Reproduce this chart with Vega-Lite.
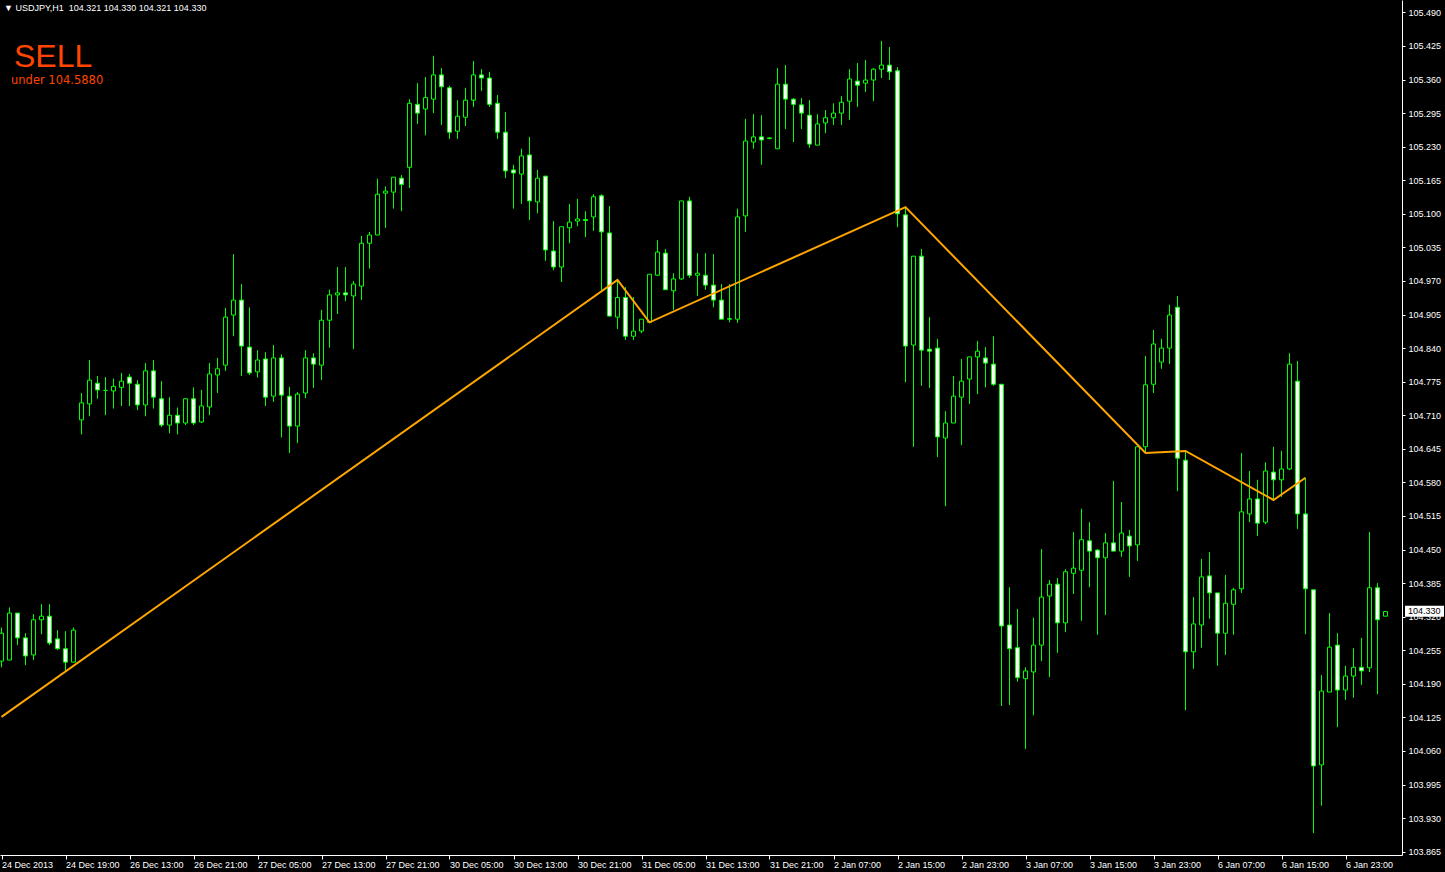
{
 "$schema": "https://vega.github.io/schema/vega-lite/v6.json",
 "width": 1402,
 "height": 855,
 "autosize": {"type": "none"},
 "padding": {"left": 0, "top": 0, "right": 43, "bottom": 17},
 "background": "#000000",
 "config": {
  "view": {"stroke": null},
  "scale": {"continuousPadding": 0},
  "axis": {"domainColor": "#FFFFFF", "tickColor": "#FFFFFF", "labelColor": "#FFFFFF", "labelFont": "Liberation Sans", "labelFontSize": 9, "grid": false, "title": null, "domainWidth": 1, "tickWidth": 1, "labelOverlap": false, "labelFlush": false, "labelBound": false}
 },
 "datasets": {
  "bars": [
{"i":0,"o":104.234,"h":104.299,"l":104.222,"c":104.288},
{"i":1,"o":104.236,"h":104.338,"l":104.236,"c":104.327},
{"i":2,"o":104.327,"h":104.327,"l":104.265,"c":104.279},
{"i":3,"o":104.279,"h":104.288,"l":104.226,"c":104.244},
{"i":4,"o":104.246,"h":104.325,"l":104.236,"c":104.314},
{"i":5,"o":104.314,"h":104.344,"l":104.286,"c":104.321},
{"i":6,"o":104.321,"h":104.344,"l":104.265,"c":104.269},
{"i":7,"o":104.277,"h":104.294,"l":104.256,"c":104.258},
{"i":8,"o":104.258,"h":104.292,"l":104.213,"c":104.232},
{"i":9,"o":104.232,"h":104.299,"l":104.232,"c":104.294},
{"i":10,"o":104.701,"h":104.753,"l":104.673,"c":104.734},
{"i":11,"o":104.732,"h":104.817,"l":104.708,"c":104.778},
{"i":12,"o":104.772,"h":104.786,"l":104.742,"c":104.759},
{"i":13,"o":104.758,"h":104.784,"l":104.710,"c":104.758},
{"i":14,"o":104.757,"h":104.781,"l":104.723,"c":104.766},
{"i":15,"o":104.764,"h":104.792,"l":104.728,"c":104.776},
{"i":16,"o":104.784,"h":104.790,"l":104.728,"c":104.772},
{"i":17,"o":104.770,"h":104.778,"l":104.720,"c":104.730},
{"i":18,"o":104.730,"h":104.811,"l":104.708,"c":104.796},
{"i":19,"o":104.796,"h":104.817,"l":104.723,"c":104.745},
{"i":20,"o":104.742,"h":104.776,"l":104.687,"c":104.691},
{"i":21,"o":104.691,"h":104.745,"l":104.675,"c":104.710},
{"i":22,"o":104.710,"h":104.725,"l":104.673,"c":104.695},
{"i":23,"o":104.695,"h":104.742,"l":104.691,"c":104.742},
{"i":24,"o":104.742,"h":104.764,"l":104.691,"c":104.695},
{"i":25,"o":104.697,"h":104.759,"l":104.695,"c":104.728},
{"i":26,"o":104.726,"h":104.811,"l":104.710,"c":104.790},
{"i":27,"o":104.788,"h":104.821,"l":104.753,"c":104.800},
{"i":28,"o":104.807,"h":104.918,"l":104.796,"c":104.900},
{"i":29,"o":104.904,"h":105.022,"l":104.863,"c":104.933},
{"i":30,"o":104.933,"h":104.964,"l":104.786,"c":104.844},
{"i":31,"o":104.842,"h":104.919,"l":104.788,"c":104.792},
{"i":32,"o":104.794,"h":104.836,"l":104.783,"c":104.817},
{"i":33,"o":104.819,"h":104.832,"l":104.728,"c":104.745},
{"i":34,"o":104.747,"h":104.846,"l":104.736,"c":104.821},
{"i":35,"o":104.821,"h":104.828,"l":104.667,"c":104.749},
{"i":36,"o":104.747,"h":104.765,"l":104.637,"c":104.689},
{"i":37,"o":104.689,"h":104.755,"l":104.656,"c":104.751},
{"i":38,"o":104.753,"h":104.836,"l":104.743,"c":104.821},
{"i":39,"o":104.821,"h":104.830,"l":104.763,"c":104.809},
{"i":40,"o":104.807,"h":104.914,"l":104.778,"c":104.894},
{"i":41,"o":104.894,"h":104.953,"l":104.841,"c":104.943},
{"i":42,"o":104.943,"h":104.997,"l":104.906,"c":104.947},
{"i":43,"o":104.947,"h":104.997,"l":104.931,"c":104.943},
{"i":44,"o":104.941,"h":104.970,"l":104.838,"c":104.964},
{"i":45,"o":104.960,"h":105.057,"l":104.933,"c":105.043},
{"i":46,"o":105.043,"h":105.065,"l":104.994,"c":105.059},
{"i":47,"o":105.059,"h":105.168,"l":105.059,"c":105.138},
{"i":48,"o":105.140,"h":105.153,"l":105.073,"c":105.144},
{"i":49,"o":105.142,"h":105.171,"l":105.110,"c":105.171},
{"i":50,"o":105.169,"h":105.175,"l":105.105,"c":105.157},
{"i":51,"o":105.190,"h":105.322,"l":105.150,"c":105.314},
{"i":52,"o":105.312,"h":105.353,"l":105.274,"c":105.295},
{"i":53,"o":105.303,"h":105.365,"l":105.252,"c":105.325},
{"i":54,"o":105.322,"h":105.406,"l":105.295,"c":105.369},
{"i":55,"o":105.369,"h":105.382,"l":105.272,"c":105.346},
{"i":56,"o":105.344,"h":105.348,"l":105.245,"c":105.258},
{"i":57,"o":105.260,"h":105.320,"l":105.245,"c":105.289},
{"i":58,"o":105.287,"h":105.344,"l":105.270,"c":105.320},
{"i":59,"o":105.320,"h":105.396,"l":105.307,"c":105.369},
{"i":60,"o":105.369,"h":105.380,"l":105.338,"c":105.363},
{"i":61,"o":105.363,"h":105.375,"l":105.307,"c":105.312},
{"i":62,"o":105.314,"h":105.330,"l":105.245,"c":105.258},
{"i":63,"o":105.258,"h":105.297,"l":105.169,"c":105.183},
{"i":64,"o":105.185,"h":105.195,"l":105.110,"c":105.179},
{"i":65,"o":105.177,"h":105.226,"l":105.119,"c":105.212},
{"i":66,"o":105.214,"h":105.249,"l":105.088,"c":105.125},
{"i":67,"o":105.123,"h":105.185,"l":105.101,"c":105.169},
{"i":68,"o":105.173,"h":105.173,"l":105.009,"c":105.030},
{"i":69,"o":105.028,"h":105.086,"l":104.991,"c":104.997},
{"i":70,"o":104.997,"h":105.075,"l":104.968,"c":105.075},
{"i":71,"o":105.073,"h":105.119,"l":105.043,"c":105.084},
{"i":72,"o":105.086,"h":105.129,"l":105.076,"c":105.090},
{"i":73,"o":105.089,"h":105.105,"l":105.055,"c":105.087},
{"i":74,"o":105.094,"h":105.138,"l":105.067,"c":105.133},
{"i":75,"o":105.135,"h":105.138,"l":104.951,"c":105.065},
{"i":76,"o":105.063,"h":105.115,"l":104.902,"c":104.902},
{"i":77,"o":104.900,"h":104.972,"l":104.877,"c":104.938},
{"i":78,"o":104.938,"h":104.958,"l":104.856,"c":104.863},
{"i":79,"o":104.863,"h":104.939,"l":104.856,"c":104.873},
{"i":80,"o":104.873,"h":104.896,"l":104.869,"c":104.896},
{"i":81,"o":104.890,"h":104.983,"l":104.890,"c":104.983},
{"i":82,"o":104.981,"h":105.049,"l":104.980,"c":105.026},
{"i":83,"o":105.024,"h":105.032,"l":104.953,"c":104.953},
{"i":84,"o":104.951,"h":104.985,"l":104.914,"c":104.974},
{"i":85,"o":104.974,"h":105.125,"l":104.972,"c":105.125},
{"i":86,"o":105.125,"h":105.133,"l":104.976,"c":104.981},
{"i":87,"o":104.981,"h":105.024,"l":104.941,"c":104.985},
{"i":88,"o":104.981,"h":105.024,"l":104.953,"c":104.962},
{"i":89,"o":104.962,"h":105.022,"l":104.919,"c":104.933},
{"i":90,"o":104.933,"h":104.964,"l":104.896,"c":104.896},
{"i":91,"o":104.897,"h":104.964,"l":104.890,"c":104.896},
{"i":92,"o":104.896,"h":105.110,"l":104.889,"c":105.094},
{"i":93,"o":105.096,"h":105.284,"l":105.065,"c":105.241},
{"i":94,"o":105.239,"h":105.293,"l":105.226,"c":105.249},
{"i":95,"o":105.249,"h":105.291,"l":105.195,"c":105.243},
{"i":96,"o":105.247,"h":105.248,"l":105.244,"c":105.246},
{"i":97,"o":105.226,"h":105.382,"l":105.226,"c":105.351},
{"i":98,"o":105.351,"h":105.388,"l":105.264,"c":105.322},
{"i":99,"o":105.322,"h":105.324,"l":105.239,"c":105.312},
{"i":100,"o":105.311,"h":105.324,"l":105.264,"c":105.295},
{"i":101,"o":105.291,"h":105.320,"l":105.228,"c":105.235},
{"i":102,"o":105.233,"h":105.293,"l":105.233,"c":105.274},
{"i":103,"o":105.276,"h":105.301,"l":105.256,"c":105.286},
{"i":104,"o":105.286,"h":105.314,"l":105.272,"c":105.295},
{"i":105,"o":105.295,"h":105.328,"l":105.272,"c":105.316},
{"i":106,"o":105.318,"h":105.380,"l":105.282,"c":105.361},
{"i":107,"o":105.357,"h":105.392,"l":105.307,"c":105.349},
{"i":108,"o":105.353,"h":105.398,"l":105.336,"c":105.359},
{"i":109,"o":105.359,"h":105.382,"l":105.318,"c":105.380},
{"i":110,"o":105.380,"h":105.435,"l":105.363,"c":105.388},
{"i":111,"o":105.388,"h":105.423,"l":105.359,"c":105.375},
{"i":112,"o":105.377,"h":105.384,"l":105.074,"c":105.100},
{"i":113,"o":105.098,"h":105.113,"l":104.774,"c":104.844},
{"i":114,"o":104.846,"h":105.018,"l":104.649,"c":105.018},
{"i":115,"o":105.018,"h":105.032,"l":104.767,"c":104.836},
{"i":116,"o":104.838,"h":104.900,"l":104.763,"c":104.834},
{"i":117,"o":104.840,"h":104.858,"l":104.629,"c":104.668},
{"i":118,"o":104.666,"h":104.718,"l":104.534,"c":104.695},
{"i":119,"o":104.695,"h":104.786,"l":104.695,"c":104.747},
{"i":120,"o":104.745,"h":104.819,"l":104.652,"c":104.776},
{"i":121,"o":104.780,"h":104.823,"l":104.732,"c":104.823},
{"i":122,"o":104.823,"h":104.854,"l":104.751,"c":104.834},
{"i":123,"o":104.821,"h":104.842,"l":104.764,"c":104.811},
{"i":124,"o":104.809,"h":104.863,"l":104.767,"c":104.770},
{"i":125,"o":104.770,"h":104.770,"l":104.147,"c":104.302},
{"i":126,"o":104.304,"h":104.377,"l":104.149,"c":104.258},
{"i":127,"o":104.260,"h":104.335,"l":104.194,"c":104.202},
{"i":128,"o":104.200,"h":104.222,"l":104.064,"c":104.215},
{"i":129,"o":104.213,"h":104.318,"l":104.129,"c":104.265},
{"i":130,"o":104.265,"h":104.451,"l":104.234,"c":104.358},
{"i":131,"o":104.360,"h":104.391,"l":104.203,"c":104.383},
{"i":132,"o":104.383,"h":104.395,"l":104.250,"c":104.308},
{"i":133,"o":104.308,"h":104.412,"l":104.290,"c":104.407},
{"i":134,"o":104.404,"h":104.484,"l":104.364,"c":104.414},
{"i":135,"o":104.410,"h":104.529,"l":104.312,"c":104.469},
{"i":136,"o":104.467,"h":104.503,"l":104.377,"c":104.447},
{"i":137,"o":104.449,"h":104.451,"l":104.285,"c":104.434},
{"i":138,"o":104.434,"h":104.482,"l":104.323,"c":104.463},
{"i":139,"o":104.463,"h":104.583,"l":104.447,"c":104.447},
{"i":140,"o":104.447,"h":104.542,"l":104.436,"c":104.482},
{"i":141,"o":104.476,"h":104.488,"l":104.397,"c":104.457},
{"i":142,"o":104.459,"h":104.649,"l":104.428,"c":104.649},
{"i":143,"o":104.649,"h":104.825,"l":104.637,"c":104.769},
{"i":144,"o":104.770,"h":104.875,"l":104.753,"c":104.848},
{"i":145,"o":104.813,"h":104.858,"l":104.800,"c":104.840},
{"i":146,"o":104.840,"h":104.924,"l":104.809,"c":104.904},
{"i":147,"o":104.919,"h":104.941,"l":104.563,"c":104.627},
{"i":148,"o":104.623,"h":104.641,"l":104.139,"c":104.252},
{"i":149,"o":104.252,"h":104.358,"l":104.219,"c":104.306},
{"i":150,"o":104.304,"h":104.432,"l":104.260,"c":104.397},
{"i":151,"o":104.399,"h":104.445,"l":104.316,"c":104.366},
{"i":152,"o":104.366,"h":104.366,"l":104.225,"c":104.288},
{"i":153,"o":104.288,"h":104.401,"l":104.246,"c":104.346},
{"i":154,"o":104.344,"h":104.376,"l":104.285,"c":104.372},
{"i":155,"o":104.374,"h":104.637,"l":104.366,"c":104.523},
{"i":156,"o":104.519,"h":104.602,"l":104.503,"c":104.548},
{"i":157,"o":104.548,"h":104.585,"l":104.476,"c":104.501},
{"i":158,"o":104.503,"h":104.619,"l":104.499,"c":104.602},
{"i":159,"o":104.600,"h":104.649,"l":104.546,"c":104.585},
{"i":160,"o":104.585,"h":104.641,"l":104.552,"c":104.606},
{"i":161,"o":104.606,"h":104.830,"l":104.604,"c":104.809},
{"i":162,"o":104.776,"h":104.815,"l":104.490,"c":104.519},
{"i":163,"o":104.519,"h":104.589,"l":104.286,"c":104.374},
{"i":164,"o":104.372,"h":104.372,"l":103.901,"c":104.031},
{"i":165,"o":104.033,"h":104.207,"l":103.954,"c":104.176},
{"i":166,"o":104.174,"h":104.327,"l":104.174,"c":104.261},
{"i":167,"o":104.265,"h":104.288,"l":104.106,"c":104.178},
{"i":168,"o":104.178,"h":104.225,"l":104.159,"c":104.205},
{"i":169,"o":104.205,"h":104.259,"l":104.163,"c":104.222},
{"i":170,"o":104.222,"h":104.279,"l":104.188,"c":104.215},
{"i":171,"o":104.221,"h":104.484,"l":104.213,"c":104.376},
{"i":172,"o":104.376,"h":104.385,"l":104.170,"c":104.314},
{"i":173,"o":104.321,"h":104.330,"l":104.321,"c":104.330}
  ],
  "zz": [
   {"i": 0, "p": 104.126},
   {"i": 77, "p": 104.972},
   {"i": 81, "p": 104.890},
   {"i": 113, "p": 105.113},
   {"i": 143, "p": 104.637},
   {"i": 148, "p": 104.641},
   {"i": 159, "p": 104.546},
   {"i": 163, "p": 104.589}
  ]
 },
 "layer": [
  {
   "data": {"name": "bars"},
   "mark": {"type": "rule", "color": "#00FF00", "strokeWidth": 1},
   "encoding": {
    "x": {"field": "i", "type": "quantitative",
     "scale": {"domain": [-0.1875, 175.0625], "nice": false, "zero": false, "padding": 0},
     "axis": {"orient": "bottom", "values": [0,8,16,24,32,40,48,56,64,72,80,88,96,104,112,120,128,136,144,152,160,168],
      "tickCount": 40, "tickSize": 4, "labelPadding": 1, "labelAlign": "left", "labelBaseline": "top",
      "labelExpr": "['24 Dec 2013','24 Dec 19:00','26 Dec 13:00','26 Dec 21:00','27 Dec 05:00','27 Dec 13:00','27 Dec 21:00','30 Dec 05:00','30 Dec 13:00','30 Dec 21:00','31 Dec 05:00','31 Dec 13:00','31 Dec 21:00','2 Jan 07:00','2 Jan 15:00','2 Jan 23:00','3 Jan 07:00','3 Jan 15:00','3 Jan 23:00','6 Jan 07:00','6 Jan 15:00','6 Jan 23:00'][round(datum.value/8)]"}},
    "y": {"field": "l", "type": "quantitative",
     "scale": {"domain": [103.8586, 105.514], "nice": false, "zero": false, "padding": 0},
     "axis": {"orient": "right", "values": [103.865,103.930,103.995,104.060,104.125,104.190,104.255,104.320,104.385,104.450,104.515,104.580,104.645,104.710,104.775,104.840,104.905,104.970,105.035,105.100,105.165,105.230,105.295,105.360,105.425,105.490],
      "tickCount": 40, "format": ".3f", "tickSize": 3, "labelPadding": 3}},
    "y2": {"field": "h"}
   }
  },
  {
   "data": {"name": "bars"},
   "mark": {"type": "bar", "size": 4, "stroke": "#00FF00", "strokeWidth": 1},
   "encoding": {
    "x": {"field": "i", "type": "quantitative"},
    "y": {"field": "o", "type": "quantitative"},
    "y2": {"field": "c"},
    "fill": {"condition": {"test": "datum.c < datum.o", "value": "#FFFFFF"}, "value": "#000000"}
   }
  },
  {
   "data": {"name": "zz"},
   "mark": {"type": "line", "color": "#FFA500", "strokeWidth": 2},
   "encoding": {
    "x": {"field": "i", "type": "quantitative"},
    "y": {"field": "p", "type": "quantitative"}
   }
  },
  {
   "data": {"values": [{}]},
   "mark": {"type": "text", "text": "▼ USDJPY,H1\u00a0\u00a0104.321 104.330 104.321 104.330", "color": "#FFFFFF", "font": "Liberation Sans", "fontSize": 9, "align": "left", "baseline": "middle"},
   "encoding": {"x": {"datum": 0.3125, "type": "quantitative"}, "y": {"datum": 105.498, "type": "quantitative"}}
  },
  {
   "data": {"values": [{}]},
   "mark": {"type": "text", "text": "SELL", "color": "#FF4500", "font": "Liberation Sans", "fontSize": 32, "align": "left", "baseline": "alphabetic"},
   "encoding": {"x": {"datum": 1.5625, "type": "quantitative"}, "y": {"datum": 105.384, "type": "quantitative"}}
  },
  {
   "data": {"values": [{}]},
   "mark": {"type": "text", "text": "under 104.5880", "color": "#FF4500", "font": "DejaVu Sans", "fontSize": 11.5, "align": "left", "baseline": "alphabetic"},
   "encoding": {"x": {"datum": 1.1875, "type": "quantitative"}, "y": {"datum": 105.351, "type": "quantitative"}}
  },
  {
   "data": {"values": [{}]},
   "mark": {"type": "rect", "color": "#FFFFFF"},
   "encoding": {"x": {"datum": 175.4375, "type": "quantitative"}, "x2": {"datum": 180.3125}, "y": {"datum": 104.341, "type": "quantitative"}, "y2": {"datum": 104.320}}
  },
  {
   "data": {"values": [{}]},
   "mark": {"type": "text", "text": "104.330", "color": "#000000", "font": "Liberation Sans", "fontSize": 9, "align": "left", "baseline": "middle"},
   "encoding": {"x": {"datum": 175.8125, "type": "quantitative"}, "y": {"datum": 104.3305, "type": "quantitative"}}
  }
 ]
}
